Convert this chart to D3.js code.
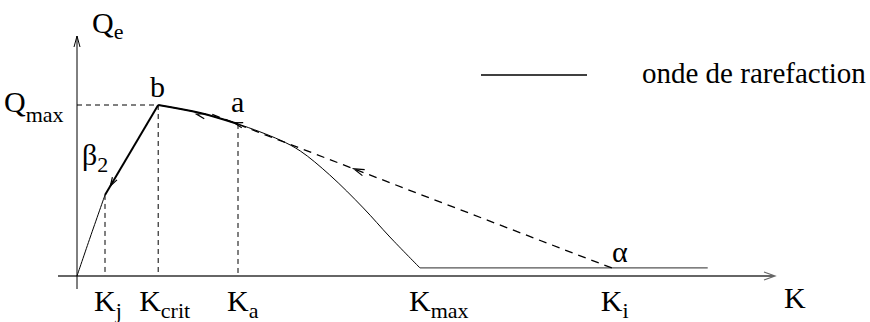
<!DOCTYPE html>
<html><head><meta charset="utf-8"><script src="https://cdn.jsdelivr.net/npm/d3@7"></script>
<style>
  svg text, svg tspan { font-family: "Liberation Serif", "Times New Roman", Times, serif !important; }
</style>
</head>
<body style="margin:0">
<script>
// --- Data (K = density, Q = flow, arbitrary units) ---
const risingCurve = [[0, 0], [1.9, 22.8], [4, 47.4]];           // origin -> K_j
const chordKjB = [[4, 47.4], [11.6, 100]];                      // straight part K_j -> b
const fallingCurve = [[11.6, 100], [17.6, 95.3], [23, 88.9], [29, 79.5], [31.9, 73.1],
                      [36.1, 59.1], [40.9, 39.8], [44.7, 22.8], [49, 4.7]];   // b -> K_max
const flatPart = [[49, 4.7], [90.1, 4.7]];
const shockLine = [[76.4, 4.7], [18.8, 95.3]];                  // dashed, alpha -> a
const ticksK = [
  { k: 4, q: 47.4, label: "K", sub: "j" },
  { k: 11.6, q: 100, label: "K", sub: "crit" },
  { k: 23, q: 88.9, label: "K", sub: "a" },
  { k: 49, q: null, label: "K", sub: "max" },
  { k: 76.4, q: null, label: "K", sub: "i" }
];
const qMax = 100;
const legendText = "onde de rarefaction";

// --- Setup ---
const fontCss = 'font-family: "Liberation Serif", "Times New Roman", Times, serif !important;';
const svg = d3.select("body").append("svg").attr("width", 870).attr("height", 322);

const x = d3.scaleLinear().domain([0, 100]).range([77, 777]);
const y = d3.scaleLinear().domain([0, 100]).range([276, 105]);

const line = d3.line().x(d => x(d[0])).y(d => y(d[1]));
const smooth = d3.line().x(d => x(d[0])).y(d => y(d[1])).curve(d3.curveCatmullRom.alpha(0.5));

// --- Axes ---
svg.append("line")
  .attr("x1", 58).attr("x2", 774).attr("y1", y(0)).attr("y2", y(0))
  .attr("stroke", "#666").attr("stroke-width", 2);
svg.append("path")
  .attr("d", `M${764},${y(0) - 4} L${775},${y(0)} L${764},${y(0) + 4}`)
  .attr("fill", "none").attr("stroke", "#666").attr("stroke-width", 1.2);

svg.append("line")
  .attr("x1", x(0)).attr("x2", x(0)).attr("y1", 289).attr("y2", 36)
  .attr("stroke", "#000").attr("stroke-width", 1);
svg.append("path")
  .attr("d", `M${x(0) - 3},${47} L${x(0)},${36} L${x(0) + 3},${47}`)
  .attr("fill", "none").attr("stroke", "#000").attr("stroke-width", 1);

// --- Dashed guides ---
const dash = "5,4";
svg.append("line")
  .attr("x1", x(0)).attr("x2", x(11.6)).attr("y1", y(qMax)).attr("y2", y(qMax))
  .attr("stroke", "#000").attr("stroke-dasharray", dash);
ticksK.filter(t => t.q !== null).forEach(t => {
  svg.append("line")
    .attr("x1", x(t.k)).attr("x2", x(t.k)).attr("y1", y(t.q)).attr("y2", y(0))
    .attr("stroke", "#000").attr("stroke-dasharray", dash);
});

// --- Curves ---
svg.append("path").attr("d", smooth(risingCurve))
  .attr("fill", "none").attr("stroke", "#000").attr("stroke-width", 1);
svg.append("path").attr("d", line(chordKjB))
  .attr("fill", "none").attr("stroke", "#000").attr("stroke-width", 2);
svg.append("path").attr("d", smooth(fallingCurve))
  .attr("fill", "none").attr("stroke", "#000").attr("stroke-width", 1);
svg.append("path").attr("d", smooth(fallingCurve.slice(0, 3)))
  .attr("fill", "none").attr("stroke", "#000").attr("stroke-width", 2);
svg.append("path").attr("d", line(flatPart))
  .attr("fill", "none").attr("stroke", "#555").attr("stroke-width", 1.3);
svg.append("path").attr("d", line(shockLine))
  .attr("fill", "none").attr("stroke", "#000").attr("stroke-width", 1.3)
  .attr("stroke-dasharray", "8,6");

// --- Small arrowheads along the paths ---
function arrowAt(p0, p1, t, size) {
  const ax = x(p0[0]) + (x(p1[0]) - x(p0[0])) * t;
  const ay = y(p0[1]) + (y(p1[1]) - y(p0[1])) * t;
  const ang = Math.atan2(y(p1[1]) - y(p0[1]), x(p1[0]) - x(p0[0]));
  const s = size || 9, w = 0.3;
  const bx1 = ax - s * Math.cos(ang - w), by1 = ay - s * Math.sin(ang - w);
  const bx2 = ax - s * Math.cos(ang + w), by2 = ay - s * Math.sin(ang + w);
  svg.append("path")
    .attr("d", `M${bx1},${by1} L${ax},${ay} L${bx2},${by2}`)
    .attr("fill", "none").attr("stroke", "#000").attr("stroke-width", 1.2);
}
arrowAt(shockLine[0], shockLine[1], 0.64, 11);
arrowAt(chordKjB[1], chordKjB[0], 0.9, 9);
arrowAt(fallingCurve[2], fallingCurve[0], 0.52, 9);
arrowAt(fallingCurve[2], fallingCurve[1], 0.1, 9);

// --- Labels ---
function label(px, py, main, sub, size, subSize, subDy) {
  const t = svg.append("text").attr("x", px).attr("y", py)
    .attr("style", fontCss + ` font-size: ${size}px;`);
  t.append("tspan").text(main);
  if (sub) t.append("tspan").attr("dy", subDy)
    .attr("style", fontCss + ` font-size: ${subSize}px;`).text(sub);
}
label(92, 33, "Q", "e", 30, 22, 6);
label(4, 112, "Q", "max", 30, 22, 10);
label(150, 97, "b", null, 30);
label(231, 112, "a", null, 30);
label(82, 165, "β", "2", 30, 22, 7);
label(612, 262, "α", null, 30);
ticksK.forEach(t => {
  const w = t.sub === "crit" ? 19 : 11;
  label(x(t.k) - w, 311, t.label, t.sub, 30, 22, 7);
});
label(784, 308, "K", null, 30);

// --- Legend ---
svg.append("line")
  .attr("x1", 481).attr("x2", 587).attr("y1", 75).attr("y2", 75)
  .attr("stroke", "#000").attr("stroke-width", 1.3);
svg.append("text").attr("x", 642).attr("y", 83)
  .attr("style", fontCss + " font-size: 29px;").text(legendText);
</script></body></html>
